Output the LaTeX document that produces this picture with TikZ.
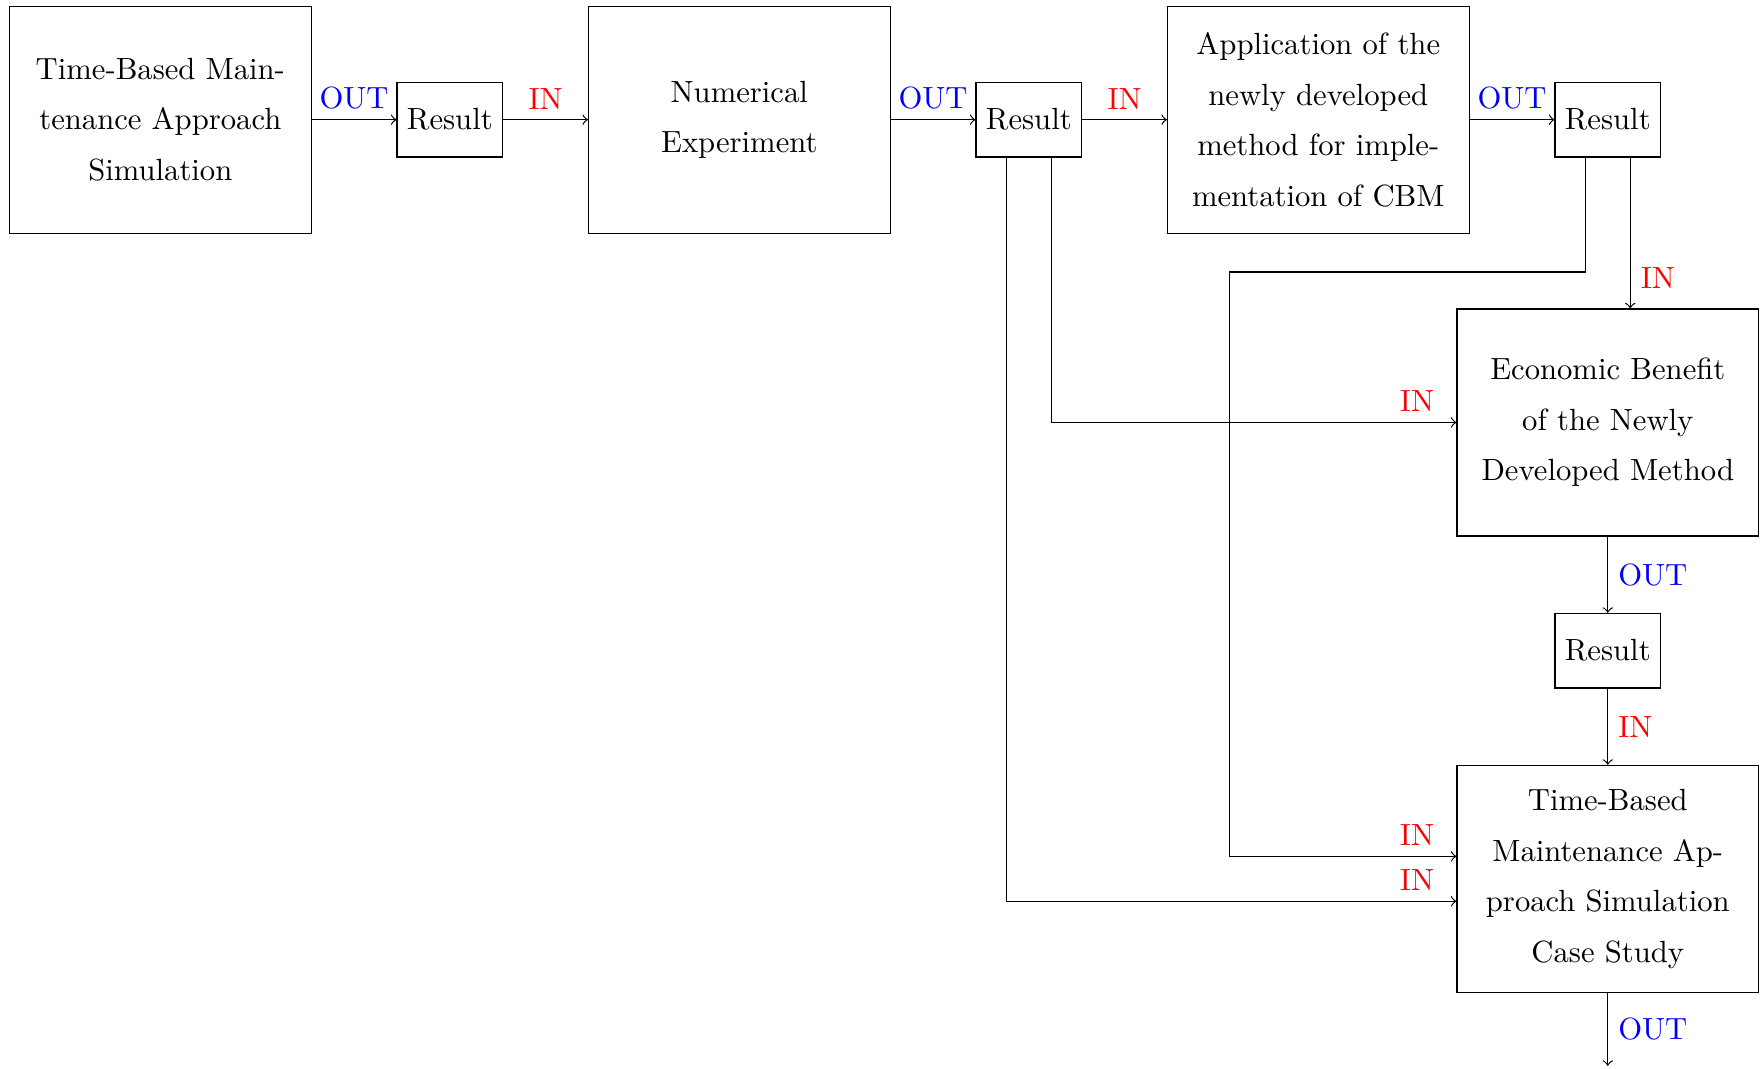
\documentclass[tikz,border=0pt]{standalone}
\usetikzlibrary{positioning, arrows}
\tikzset{node distance=1cm, % gap between neighbouring boxes
every node/.style={font=\fontsize{10.3}{12.4}\selectfont},
stage/.style={ % the big process boxes
draw, align=center,
minimum width=3.56cm, minimum height=2.68cm,
font=\fontsize{10.3}{17}\selectfont},
result/.style={ % the small result boxes
draw, minimum height=0.88cm},
outlbl/.style={text=blue}, % OUT labels
inlbl/.style={text=red}, % IN labels
every path/.style={thin}}

\begin{document}
\begin{tikzpicture}
    \node[stage] (tbm) {Time-Based Main-\\tenance Approach\\Simulation};
    \node[result, right=of tbm] (res1) {Result};
    \node[stage, right=of res1] (numexp) {Numerical\\Experiment};
    \node[result, right=of numexp] (res2) {Result};
    \node[stage, right=of res2] (cbm) {Application of the\\newly developed\\method for imple-\\mentation of CBM};
    \node[result, right=of cbm] (res3) {Result};
    \node[stage, below=1.78cm of res3] (econ) {Economic Benefit\\of the Newly\\Developed Method};
    \node[result, below=0.9cm of econ] (res4) {Result};
    \node[stage, below=0.9cm of res4] (case) {Time-Based\\Maintenance Ap-\\proach Simulation\\Case Study};
    \coordinate[below=0.86cm of case] (end);
    \coordinate (turn) at ([xshift=0.74cm, yshift=-0.45cm]cbm.south west);
    \draw[->] (tbm) -- node[outlbl, above] {OUT} (res1);
    \draw[->] (res1) -- node[inlbl, above] {IN} (numexp);
    \draw[->] (numexp) -- node[outlbl, above] {OUT} (res2);
    \draw[->] (res2) -- node[inlbl, above] {IN} (cbm);
    \draw[->] (cbm) -- node[outlbl, above] {OUT} (res3);
    \draw[->] ([xshift=0.265cm]res3.south) -- node[inlbl, right, pos=0.8] {IN} ([xshift=0.265cm]res3.south |- econ.north);
    \draw[->] ([xshift=0.265cm]res2.south) |- node[inlbl, pos=1, above left, xshift=-4pt] {IN} (econ.west);
    \draw[->] ([xshift=-0.265cm]res3.south) |- (turn) |- node[inlbl, pos=1, above left, xshift=-4pt] {IN} ([yshift=0.265cm]case.west);
    \draw[->] ([xshift=-0.265cm]res2.south) |- node[inlbl, pos=1, above left, xshift=-4pt] {IN} ([yshift=-0.265cm]case.west);
    \draw[->] (econ) -- node[outlbl, right] {OUT} (res4);
    \draw[->] (res4) -- node[inlbl, right] {IN} (case);
    \draw[->] (case) -- node[outlbl, right] {OUT} (end);
    % fix the margins
    \coordinate (se) at (end -| econ.east);
    \pgfresetboundingbox
    \useasboundingbox ([shift={(-0.106cm,0.066cm)}]tbm.north west) rectangle ([shift={(0.01cm,-0.035cm)}]se);
\end{tikzpicture}
\end{document}
